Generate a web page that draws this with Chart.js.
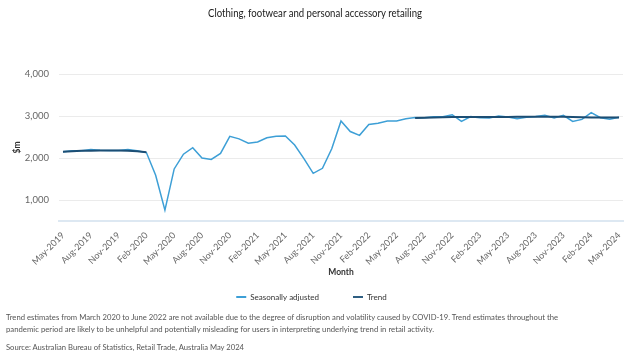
<!DOCTYPE html>
<html>
<head>
<meta charset="utf-8">
<script src="https://cdn.jsdelivr.net/npm/chart.js@4"></script>
<style>
  body { margin: 0; background: #fff; }
  #wrap { position: relative; width: 630px; height: 363px; overflow: hidden; }
  #chart { position: absolute; left: 0; top: 0; }
  .txt { position: absolute; white-space: nowrap; font-family: Lato, sans-serif; transform-origin: left top; }
  .title { font-size: 10.5px; color: #1a1a1a; }
  .note { font-size: 8.3px; color: #555; }
</style>
</head>
<body>
<div id="wrap">
  <canvas id="chart" width="630" height="313"></canvas>
  <span class="txt title" data-w="214" style="left:208px; top:7px;">Clothing, footwear and personal accessory retailing</span>
  <span class="txt note" data-w="552" style="left:6px; top:312px;">Trend estimates from March 2020 to June 2022 are not available due to the degree of disruption and volatility caused by COVID-19. Trend estimates throughout the</span>
  <span class="txt note" data-w="428" style="left:6px; top:324px;">pandemic period are likely to be unhelpful and potentially misleading for users in interpreting underlying trend in retail activity.</span>
  <span class="txt note" data-w="238" style="left:6px; top:342px;">Source: Australian Bureau of Statistics, Retail Trade, Australia May 2024</span>
</div>
<script>
// monthly, May-2019 .. May-2024
var months = [
  'May-2019','Jun-2019','Jul-2019','Aug-2019','Sep-2019','Oct-2019','Nov-2019','Dec-2019',
  'Jan-2020','Feb-2020','Mar-2020','Apr-2020','May-2020','Jun-2020','Jul-2020','Aug-2020','Sep-2020','Oct-2020','Nov-2020','Dec-2020',
  'Jan-2021','Feb-2021','Mar-2021','Apr-2021','May-2021','Jun-2021','Jul-2021','Aug-2021','Sep-2021','Oct-2021','Nov-2021','Dec-2021',
  'Jan-2022','Feb-2022','Mar-2022','Apr-2022','May-2022','Jun-2022','Jul-2022','Aug-2022','Sep-2022','Oct-2022','Nov-2022','Dec-2022',
  'Jan-2023','Feb-2023','Mar-2023','Apr-2023','May-2023','Jun-2023','Jul-2023','Aug-2023','Sep-2023','Oct-2023','Nov-2023','Dec-2023',
  'Jan-2024','Feb-2024','Mar-2024','Apr-2024','May-2024'
];

var seasonallyAdjusted = [
  2150, 2170, 2175, 2200, 2185, 2180, 2180, 2200,
  2170, 2130, 1590, 760, 1740, 2090, 2245, 2000, 1965, 2110, 2515, 2455,
  2350, 2380, 2480, 2520, 2525, 2310, 1985, 1635, 1755, 2220, 2880, 2630,
  2540, 2800, 2830, 2880, 2880, 2935, 2965, 2960, 2985, 2985, 3030, 2870,
  2985, 2960, 2955, 3000, 2975, 2935, 2970, 2990, 3015, 2955, 3015, 2870,
  2920, 3080, 2960, 2925, 2970
];

// trend suspended Mar-2020 .. Jun-2022
var trend = [
  2150, 2160, 2170, 2175, 2180, 2180, 2180, 2175,
  2160, 2135, null, null, null, null, null, null, null, null, null, null,
  null, null, null, null, null, null, null, null, null, null, null, null,
  null, null, null, null, null, null, 2955, 2960, 2965, 2970, 2975, 2975,
  2975, 2975, 2975, 2975, 2975, 2980, 2980, 2985, 2985, 2985, 2980, 2975,
  2970, 2965, 2965, 2965, 2965
];

var xTicks = [0, 3, 6, 9, 12, 15, 18, 21, 24, 27, 30, 33, 36, 39, 42, 45, 48, 51, 54, 57, 60];
var yTicks = [1000, 2000, 3000, 4000];

var FONT = "Lato, sans-serif";

// squeeze the html text lines to the widths seen in the original
document.querySelectorAll('.txt').forEach(function (el) {
  var w = el.getBoundingClientRect().width;
  el.style.transform = 'scaleX(' + (el.dataset.w / w) + ')';
});

function points(arr) {
  return arr.map(function (v, i) { return { x: i, y: v }; });
}

new Chart(document.getElementById('chart'), {
  type: 'line',
  data: {
    datasets: [{
      label: 'Seasonally adjusted',
      data: points(seasonallyAdjusted),
      borderColor: '#3d9fd6',
      backgroundColor: '#3d9fd6',
      borderWidth: 1.5,
      pointRadius: 0,
      tension: 0,
      order: 1
    }, {
      label: 'Trend',
      data: points(trend),
      borderColor: '#1c4e74',
      backgroundColor: '#2f5f82',
      borderWidth: 2,
      pointRadius: 0,
      tension: 0,
      spanGaps: false,
      order: 0
    }]
  },
  options: {
    responsive: false,
    animation: false,
    layout: { padding: { left: 0, right: 7, top: 74, bottom: 2 } },
    plugins: {
      title: { display: false },
      legend: {
        position: 'bottom',
        labels: {
          color: '#333',
          font: { family: FONT, size: 8 },
          boxWidth: 10,
          boxHeight: 2,
          padding: 10,
          generateLabels: function (chart) {
            var items = Chart.defaults.plugins.legend.labels.generateLabels(chart);
            items.sort(function (a, b) { return a.datasetIndex - b.datasetIndex; });
            items.forEach(function (it) {
              it.lineWidth = 0;
              if (it.datasetIndex === 0) it.text += '\u2003\u2003\u2003\u2003';
            });
            return items;
          }
        }
      },
      tooltip: { enabled: false }
    },
    scales: {
      x: {
        type: 'linear',
        min: -0.43,
        max: 60.43,
        afterBuildTicks: function (scale) {
          scale.ticks = xTicks.map(function (v) { return { value: v }; });
        },
        afterFit: function (scale) { scale.height = 62; },
        ticks: {
          autoSkip: false,
          minRotation: 45,
          maxRotation: 45,
          color: '#666',
          font: { family: FONT, size: 9 },
          padding: 1,
          callback: function (v) { return months[v]; }
        },
        grid: { display: false },
        border: { display: true, color: '#dde8f2', width: 2 },
        title: {
          display: true,
          text: 'Month',
          color: '#333',
          font: { family: FONT, size: 8.5, weight: 'bold' },
          padding: { top: 0, bottom: 6 }
        }
      },
      y: {
        min: 500,
        max: 4000,
        afterBuildTicks: function (scale) {
          scale.ticks = yTicks.map(function (v) { return { value: v }; });
        },
        afterFit: function (scale) { scale.width = 59; },
        ticks: {
          color: '#666',
          font: { family: FONT, size: 9.5 },
          padding: 10,
          callback: function (v) { return v.toLocaleString('en-AU'); }
        },
        grid: { color: '#ebebeb', drawTicks: false, lineWidth: 1 },
        border: { display: false },
        title: {
          display: true,
          text: '$m',
          color: '#333',
          font: { family: FONT, size: 8.5, weight: 'bold' },
          padding: { top: 12, bottom: 8 }
        }
      }
    }
  }
});
</script>
</body>
</html>
